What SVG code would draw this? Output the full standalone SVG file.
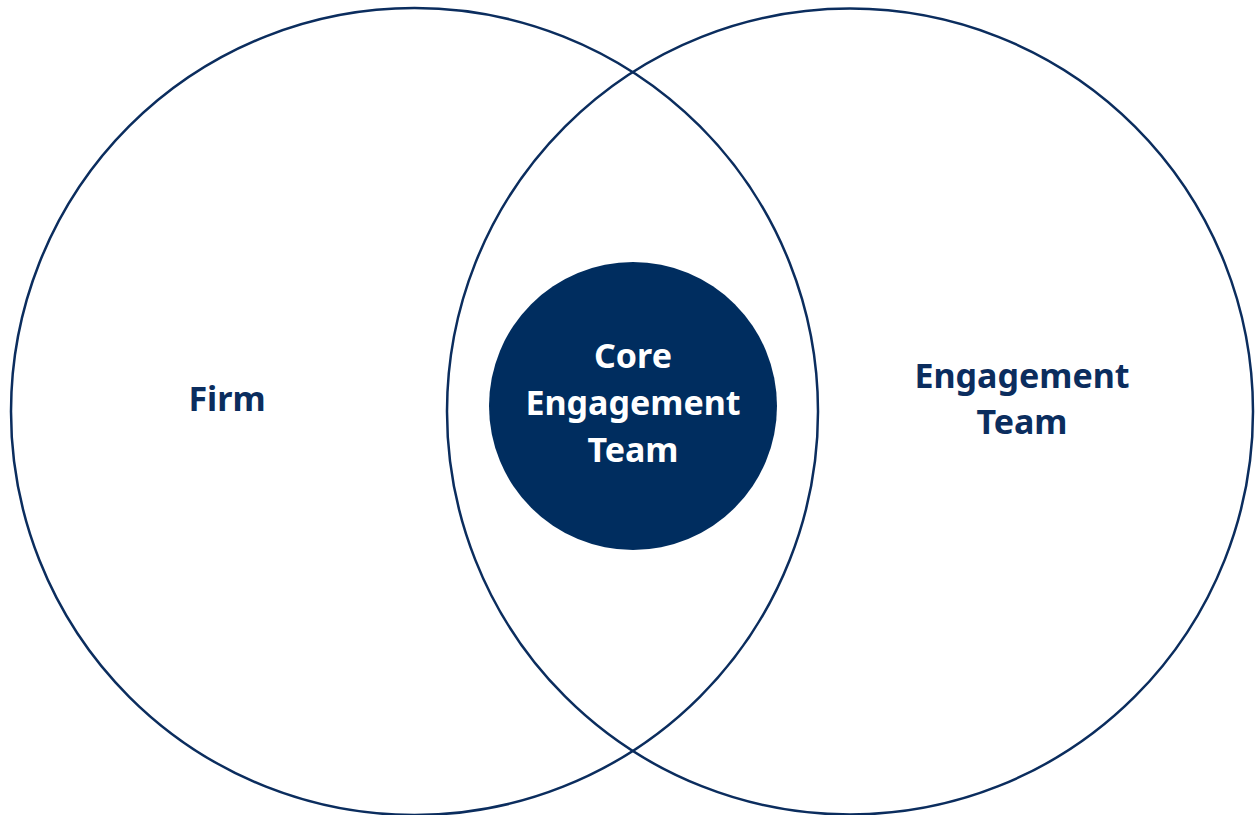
<svg xmlns="http://www.w3.org/2000/svg" width="1255" height="815" viewBox="0 0 1255 815">
<style>
.ring{fill:none;stroke:#0b2d5e;stroke-width:2.5}
.lbl{font-family:"Noto Sans","Open Sans","Liberation Sans",sans-serif;font-weight:700;font-size:34px;text-anchor:middle;fill:#0b2d5e}
.inv{fill:#ffffff}
</style>
<rect width="1255" height="815" fill="#ffffff"/>
<g id="firm">
<circle class="ring" cx="414.5" cy="411.5" r="403.5"/>
<text class="lbl" x="227" y="411">Firm</text>
</g>
<g id="engagement-team">
<circle class="ring" cx="850" cy="411.5" r="403"/>
<text class="lbl" x="1022" y="388">Engagement</text>
<text class="lbl" x="1022" y="434">Team</text>
</g>
<g id="core-engagement-team">
<circle cx="633" cy="406" r="144" fill="#002d5f"/>
<text class="lbl inv" x="633" y="368">Core</text>
<text class="lbl inv" x="633" y="415">Engagement</text>
<text class="lbl inv" x="633" y="462">Team</text>
</g>
<g id="connectors"/>
</svg>
